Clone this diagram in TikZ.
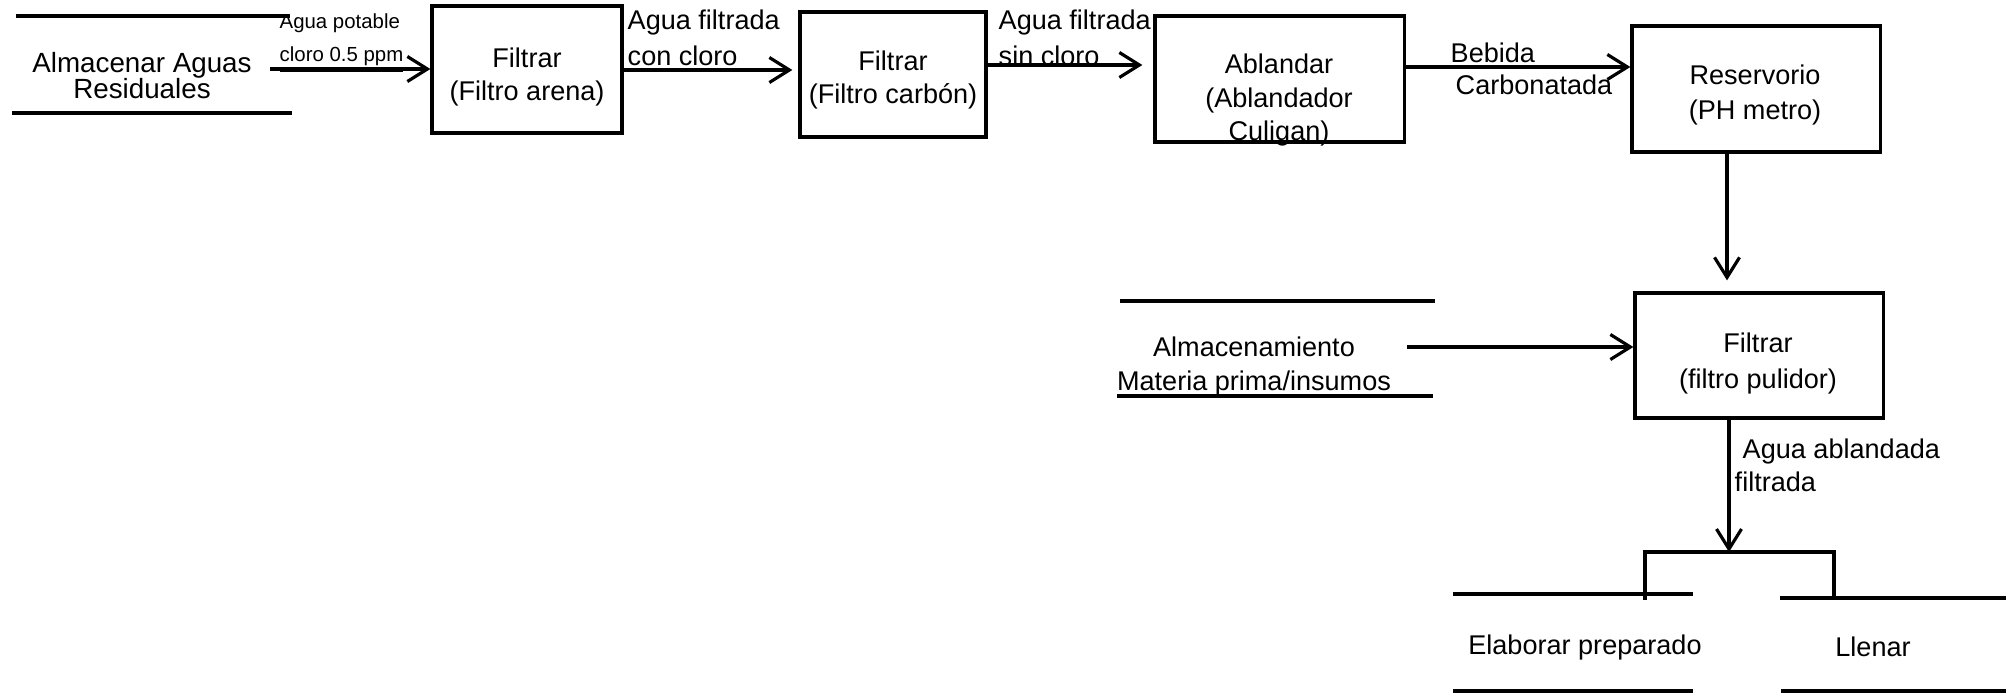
\documentclass[tikz,border=0pt]{standalone}
\usepackage{fontspec}
\setmainfont{Liberation Sans}
\usetikzlibrary{arrows.meta}
\begin{document}
\begin{tikzpicture}[x=0.01cm,y=-0.01cm,
  ln/.style={line width=0.9pt},
  arr/.style={line width=0.9pt,-{Straight Barb[length=0.2cm,width=0.25cm,line width=0.9pt]}},
  procbox/.style={draw,line width=0.9pt,inner sep=0pt},
  txt/.style={inner sep=0pt,align=center,font=\fontsize{7.7pt}{9.4pt}\selectfont},
  lbl/.style={inner sep=0pt,align=left,anchor=west,font=\fontsize{7.7pt}{10.2pt}\selectfont},
  small/.style={inner sep=0pt,anchor=west,font=\fontsize{5.8pt}{7pt}\selectfont}]
\useasboundingbox (0,0) rectangle (2009,694);

% process boxes
\node[procbox,minimum width=1.90cm,minimum height=1.27cm] (f1) at (527,69.5) {};
\node[procbox,minimum width=1.86cm,minimum height=1.25cm] (f2) at (893,74.5) {};
\node[procbox,minimum width=2.49cm,minimum height=1.26cm] (ab) at (1279.5,79) {};
\node[procbox,minimum width=2.48cm,minimum height=1.26cm] (res) at (1756,89) {};
\node[procbox,minimum width=2.48cm,minimum height=1.25cm] (fp) at (1759,355.5) {};

% box texts
\node[txt] (f1t) at (527,77) {Filtrar\\(Filtro arena)};
\node[txt] (f2t) at (893,80) {Filtrar\\(Filtro carb\'on)};
\node[txt] (abt) at (1279,100) {Ablandar\\(Ablandador\\Culigan)};
\node[txt,font=\fontsize{7.7pt}{10.2pt}\selectfont] (rest) at (1755,95) {Reservorio\\(PH metro)};
\node[txt,font=\fontsize{7.7pt}{10.5pt}\selectfont] (fpt) at (1758,363.5) {Filtrar\\(filtro pulidor)};

% data stores
\node[txt,font=\fontsize{7.9pt}{9.1pt}\selectfont] (st1) at (142,75.5) {Almacenar Aguas\\[-1.8pt]Residuales};
\draw[ln] (16,16) -- (290,16);
\draw[ln] (12,113) -- (292,113);

\node[txt,font=\fontsize{7.7pt}{9.4pt}\selectfont] (st2) at (1254,366.5) {Almacenamiento\\Materia prima/insumos};
\draw[ln] (1120,301) -- (1435,301);
\draw[ln] (1117,396) -- (1433,396);

\node[txt] (ep) at (1585,647) {Elaborar preparado};
\draw[ln] (1453,594) -- (1693,594);
\draw[ln] (1453,691) -- (1693,691);

\node[txt] (ll) at (1873,647) {Llenar};
\draw[ln] (1780,598) -- (2006,598);
\draw[ln] (1781,691) -- (2006,691);

% flow labels
\node[small] (l1a) at (279,23) {Agua potable};
\node[small] (l1b) at (279,60) {\underline{cloro 0.5 ppm}};
\node[lbl] (l2) at (627,38) {Agua filtrada\\con cloro};
\node[lbl] (l3) at (998,37.5) {Agua filtrada\\sin cloro};
\node[lbl,font=\fontsize{7.7pt}{9.1pt}\selectfont] (l4) at (1450,69) {Bebida\\\hspace{0.05cm}Carbonatada};
\node[lbl,font=\fontsize{7.7pt}{9.4pt}\selectfont] (l5) at (1734,465) {\hspace{0.08cm}Agua ablandada\\filtrada};

% flows
\coordinate (s1) at (270,69);
\draw[arr] (s1) -- (s1 -| f1.west);
\draw[arr,shorten >=0.06cm] (f1.east |- 0,70) -- (f2.west |- 0,70);
\draw[arr,shorten >=0.11cm] (f2.east |- 0,65) -- (ab.west |- 0,65);
\draw[arr] (ab.east |- 0,67) -- (res.west |- 0,67);
\draw[arr,shorten >=0.11cm] (res.south -| 1727,0) -- (fp.north -| 1727,0);
\coordinate (s2) at (1407,347);
\draw[arr] (s2) -- (s2 -| fp.west);

% split to the two outputs
\coordinate (br) at (1729,552);
\draw[arr] (fp.south -| br) -- (br);
\draw[ln] (1645,600) -- (1645,552) -- (1834,552) -- (1834,597);
\end{tikzpicture}
\end{document}
